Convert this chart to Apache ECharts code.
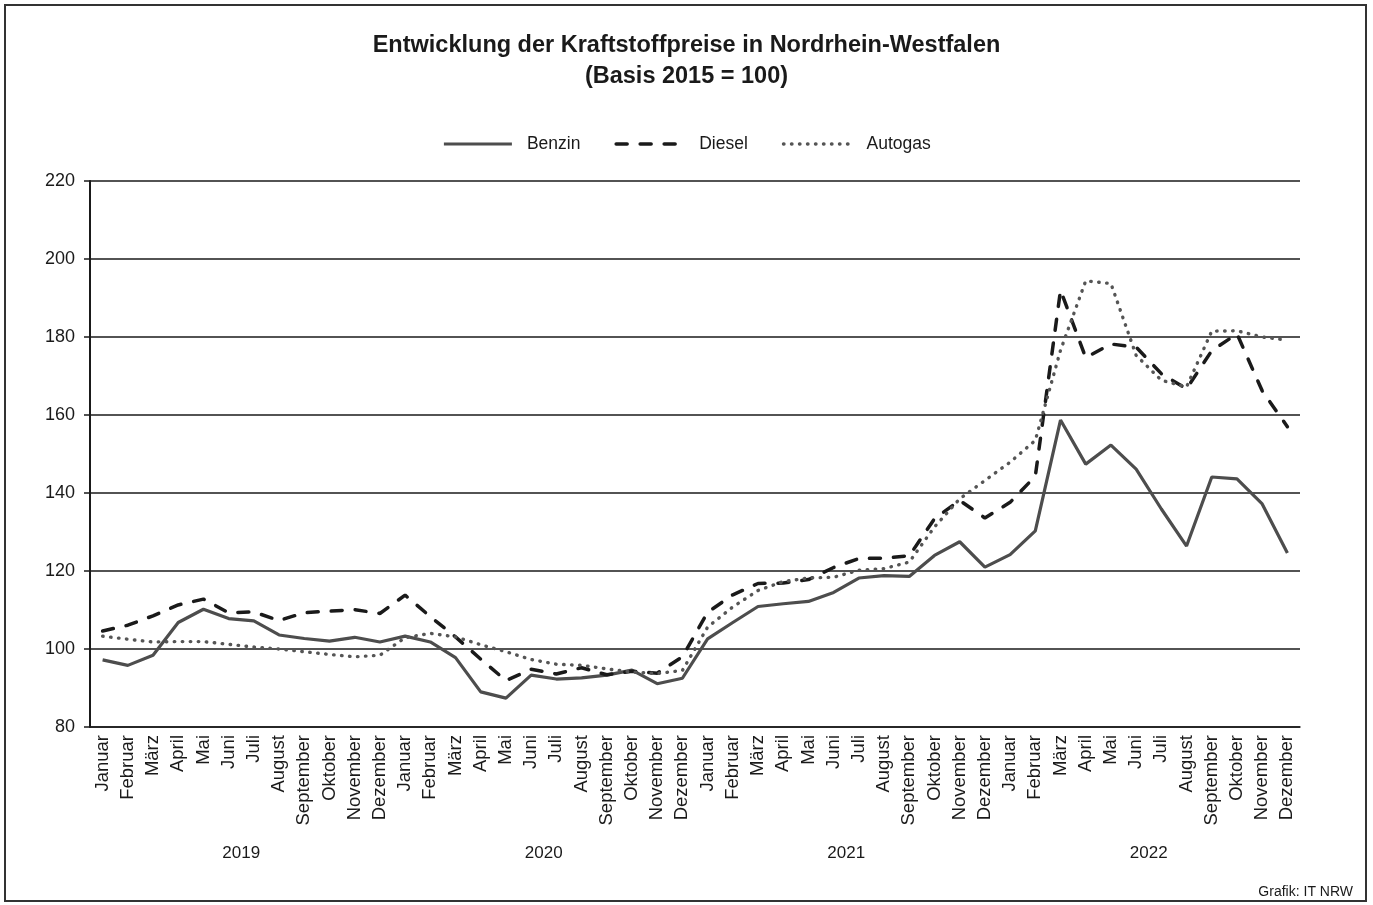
<!DOCTYPE html>
<html>
<head>
<meta charset="utf-8">
<script src="https://cdn.jsdelivr.net/npm/echarts@6/dist/echarts.min.js"></script>
<style>
  html, body { margin: 0; padding: 0; background: #fff; }
  #chart { width: 1373px; height: 905px; }
</style>
</head>
<body>
<div id="chart"></div>
<script>
// Monate (je Jahr gleich) und Jahre
const monate = ['Januar', 'Februar', 'März', 'April', 'Mai', 'Juni', 'Juli', 'August',
  'September', 'Oktober', 'November', 'Dezember'];
const jahre = ['2019', '2020', '2021', '2022'];

// Preisindex Benzin, Jan 2019 - Dez 2022
const benzin = [
  97.2, 95.8, 98.4, 106.8, 110.2, 107.8, 107.2, 103.6, 102.7, 102.0, 103.0, 101.8,
  103.3, 101.8, 97.8, 89.0, 87.4, 93.3, 92.3, 92.6, 93.3, 94.6, 91.1, 92.5,
  102.6, 106.8, 110.9, 111.6, 112.2, 114.5, 118.2, 118.8, 118.6, 124.0, 127.5, 121.0,
  124.2, 130.3, 158.7, 147.4, 152.3, 146.1, 135.9, 126.4, 144.1, 143.6, 137.2, 124.6
];
// Preisindex Diesel
const diesel = [
  104.6, 106.1, 108.5, 111.3, 112.8, 109.3, 109.5, 107.3, 109.3, 109.7, 110.1, 109.1,
  113.8, 108.3, 103.1, 97.4, 91.9, 94.8, 93.6, 95.2, 93.4, 94.3, 93.8, 98.0,
  109.4, 113.9, 116.8, 116.9, 117.8, 120.9, 123.2, 123.3, 123.9, 133.4, 138.1, 133.6,
  137.6, 144.3, 192.0, 174.7, 178.2, 177.4, 170.6, 166.7, 176.5, 180.8, 166.2, 157.0
];
// Preisindex Autogas
const autogas = [
  103.3, 102.5, 101.8, 101.9, 101.9, 101.2, 100.5, 100.0, 99.3, 98.6, 98.0, 98.4,
  102.9, 104.0, 103.1, 101.1, 99.3, 97.3, 96.1, 95.8, 94.9, 94.1, 93.7, 94.5,
  105.6, 110.8, 115.0, 117.3, 118.2, 118.4, 120.2, 120.6, 122.3, 131.3, 138.5, 143.2,
  147.9, 153.5, 176.6, 194.4, 193.7, 175.3, 168.9, 167.2, 181.5, 181.6, 180.0, 179.2
];

// 48 Kategorien: Monat je Jahr
const kategorien = [];
jahre.forEach(function (j) {
  monate.forEach(function (m) { kategorien.push(m + ' ' + j); });
});

const schrift = '"Liberation Sans", Arial, sans-serif';
const chart = echarts.init(document.getElementById('chart'));

chart.setOption({
  animation: false,
  backgroundColor: '#fff',
  textStyle: { fontFamily: schrift, color: '#1a1a1a' },
  title: {
    text: 'Entwicklung der Kraftstoffpreise in Nordrhein-Westfalen\n(Basis 2015 = 100)',
    left: 'center',
    top: 25,
    textStyle: {
      fontFamily: schrift,
      fontWeight: 'bold',
      fontSize: 23.5,
      lineHeight: 31,
      color: '#1a1a1a'
    }
  },
  legend: {
    top: 130,
    left: 'center',
    itemWidth: 68,
    itemHeight: 14,
    itemGap: 34,
    itemStyle: { opacity: 0 },
    lineStyle: { width: 'inherit' },
    textStyle: { fontSize: 17.5, color: '#1a1a1a', fontFamily: schrift, padding: [0, 0, 0, 10] },
    data: ['Benzin', 'Diesel', 'Autogas']
  },
  grid: { left: 90, right: 73, top: 181, bottom: 178 },
  xAxis: [
    {
      type: 'category',
      data: kategorien,
      boundaryGap: true,
      axisLine: { show: true, lineStyle: { color: '#1a1a1a', width: 1.5 } },
      axisTick: { show: false },
      axisLabel: {
        interval: 0,
        rotate: 90,
        margin: 8,
        fontSize: 18.5,
        color: '#1a1a1a',
        formatter: function (v) { return v.split(' ')[0]; }
      }
    },
    {
      type: 'category',
      data: jahre,
      position: 'bottom',
      offset: 110,
      boundaryGap: true,
      axisLine: { show: false },
      axisTick: { show: false },
      splitLine: { show: false },
      axisLabel: { interval: 0, margin: 8, fontSize: 17, color: '#1a1a1a' }
    }
  ],
  yAxis: {
    type: 'value',
    min: 80,
    max: 220,
    interval: 20,
    axisLine: { show: true, lineStyle: { color: '#1a1a1a', width: 2 } },
    axisTick: { show: true, length: 6, lineStyle: { color: '#1a1a1a', width: 1.5 } },
    axisLabel: { margin: 15, fontSize: 18, color: '#1a1a1a' },
    splitLine: { show: true, lineStyle: { color: '#1a1a1a', width: 1.5 } }
  },
  series: [
    {
      name: 'Benzin',
      type: 'line',
      data: benzin,
      symbol: 'none',
      color: '#4d4d4d',
      lineStyle: { color: '#4d4d4d', width: 3.2 }
    },
    {
      name: 'Diesel',
      type: 'line',
      data: diesel,
      symbol: 'none',
      color: '#1a1a1a',
      lineStyle: { color: '#1a1a1a', width: 3.5, type: [11, 13], cap: 'round' }
    },
    {
      name: 'Autogas',
      type: 'line',
      data: autogas,
      symbol: 'none',
      color: '#555',
      lineStyle: { color: '#555', width: 3.4, type: [0.5, 7.5], cap: 'round' }
    }
  ],
  graphic: [
    {
      type: 'rect',
      shape: { x: 5, y: 5, width: 1361, height: 896 },
      style: { fill: null, stroke: '#333', lineWidth: 2 },
      silent: true
    },
    {
      type: 'text',
      right: 20,
      top: 885,
      style: { text: 'Grafik: IT NRW', fontSize: 14, fill: '#1a1a1a', fontFamily: schrift }
    }
  ]
});
</script>
</body>
</html>
